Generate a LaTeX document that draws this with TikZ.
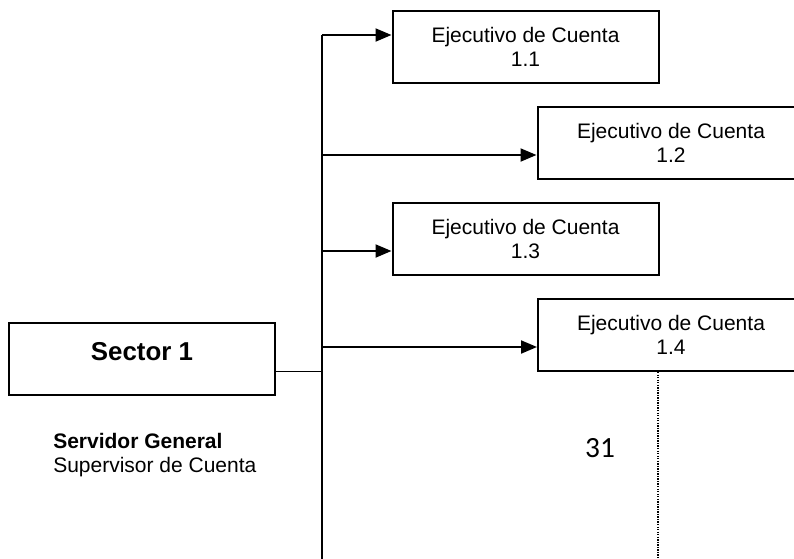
\documentclass[tikz,border=0pt]{standalone}
\usepackage{fontspec}
\setmainfont{Liberation Sans}
\newfontfamily\pagenumfont{Carlito}
\usetikzlibrary{arrows.meta}

\begin{document}
\begin{tikzpicture}[x=0.75pt, y=-0.75pt,
  orgbox/.style={draw, line width=1.5pt, rectangle, inner sep=0pt,
                 minimum width=199.5pt, minimum height=54pt},
  lbl/.style={anchor=base, inner sep=0pt, font=\fontsize{15.75pt}{18pt}\selectfont},
  trunk/.style={line width=1.5pt},
  branch/.style={line width=1.5pt, -{Triangle[length=12pt,width=9.75pt]}},
  feed/.style={line width=0.75pt},
  guide/.style={line width=1pt, dash pattern=on 1pt off 0.9pt}]

  \clip (0,0) rectangle (794,558);

  % sector box and its caption
  \node[orgbox] (sec) at (142,359) {};
  \node[anchor=base, inner sep=0pt, font=\fontsize{19.4pt}{22pt}\selectfont\bfseries]
       (sect) at (142,360) {Sector 1};
  \node[lbl, anchor=base west] (srv) at (53,448) {\textbf{Servidor General}};
  \node[lbl, anchor=base west] (sup) at (53,472) {Supervisor de Cuenta};

  % account executive boxes
  \node[orgbox] (e1) at (525.5,47) {};
  \node[orgbox] (e2) at (670.5,143) {};
  \node[orgbox] (e3) at (525.5,239) {};
  \node[orgbox] (e4) at (671,335) {};

  \node[lbl] (e1a) at (525.5,42) {Ejecutivo de Cuenta};
  \node[lbl] (e1b) at (525.5,66) {1.1};
  \node[lbl] (e2a) at (671,138) {Ejecutivo de Cuenta};
  \node[lbl] (e2b) at (671,162) {1.2};
  \node[lbl] (e3a) at (525.5,234) {Ejecutivo de Cuenta};
  \node[lbl] (e3b) at (525.5,258) {1.3};
  \node[lbl] (e4a) at (671,330) {Ejecutivo de Cuenta};
  \node[lbl] (e4b) at (671,354) {1.4};

  % page number
  \node[anchor=base, inner sep=0pt, font=\pagenumfont\fontsize{22pt}{26pt}\selectfont]
       (pg) at (600,457) {31};

  % trunk line and branch points
  \coordinate (t1) at (322,35);
  \coordinate (t2) at (322,155);
  \coordinate (t3) at (322,251);
  \coordinate (t4) at (322,347);
  \coordinate (j)  at (322,371);
  \coordinate (tb) at (322,560);

  \draw[trunk] (t1) -- (tb);
  \draw[branch] (t1) -- (t1 -| e1.west);
  \draw[branch] (t2) -- (t2 -| e2.west);
  \draw[branch] (t3) -- (t3 -| e3.west);
  \draw[branch] (t4) -- (t4 -| e4.west);
  \draw[feed] (j -| sec.east) -- (j);

  % dotted guide below box 1.4
  \coordinate (g) at (658,560);
  \draw[guide] (g |- e4.south) -- (g);
\end{tikzpicture}
\end{document}
